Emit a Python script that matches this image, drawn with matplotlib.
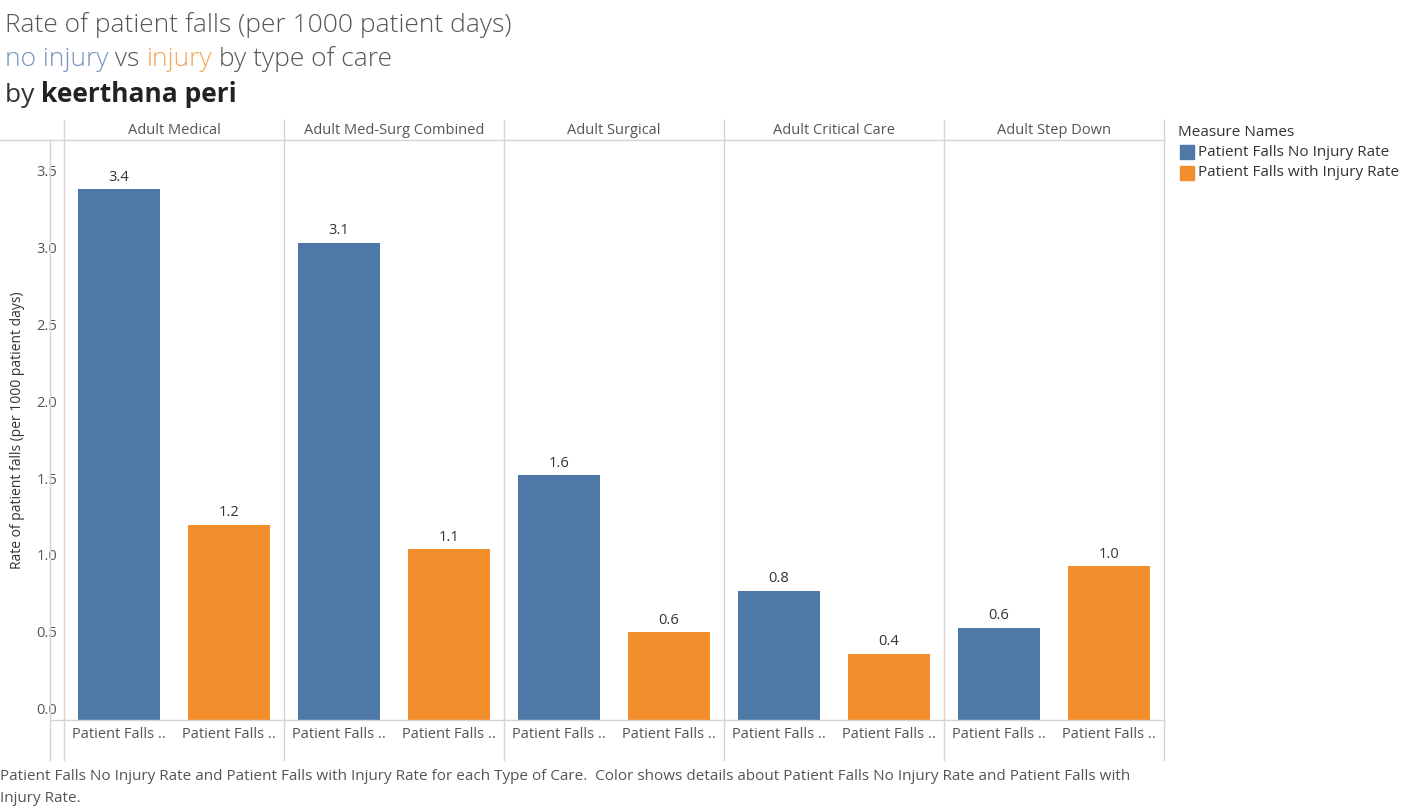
import matplotlib
matplotlib.use("Agg")
from matplotlib import pyplot as plt
from matplotlib.patches import Rectangle
from matplotlib.lines import Line2D

plt.rcParams["font.family"] = ["Open Sans", "DejaVu Sans"]

care_types = ["Adult Medical", "Adult Med-Surg Combined", "Adult Surgical",
              "Adult Critical Care", "Adult Step Down"]
no_injury = [3.45, 3.10, 1.59, 0.84, 0.60]
with_injury = [1.27, 1.11, 0.57, 0.43, 1.00]
no_injury_labels = ["3.4", "3.1", "1.6", "0.8", "0.6"]
with_injury_labels = ["1.2", "1.1", "0.6", "0.4", "1.0"]
series_names = ["Patient Falls No Injury Rate", "Patient Falls with Injury Rate"]
y_ticks = [0.0, 0.5, 1.0, 1.5, 2.0, 2.5, 3.0, 3.5]

BLUE = "#4e79a7"
ORANGE = "#f28e2b"
GRID = "#d4d4d4"
TXT = "#555555"

W, H = 1409, 811
fig = plt.figure(figsize=(W / 100, H / 100), dpi=100)


def fx(px):
    return px / W


def fy(py):
    return 1 - py / H


ax = fig.add_axes([fx(64), fy(720), fx(1164) - fx(64), fy(140) - fy(720)])
n = len(care_types)
series = [(no_injury, no_injury_labels, BLUE), (with_injury, with_injury_labels, ORANGE)]
for i in range(n):
    for j, (vals, labs, col) in enumerate(series):
        x = i + 0.25 + 0.5 * j
        ax.bar(x, vals[i], width=0.377, color=col)
        ax.text(x, vals[i] + 0.03, labs[i], ha="center", va="bottom",
                fontsize=10.5, color="#333333")
ax.set_xlim(0, n)
ax.set_ylim(0, 3.77)
for s in ax.spines.values():
    s.set_visible(False)
ax.set_xticks([])
ax.set_yticks([])
for t in y_ticks:
    ax.text(-0.03, t + 0.06, f"{t:.1f}", ha="right", va="center",
            fontsize=10.5, color=TXT, transform=ax.transData)
fig.text(fx(18), fy(430), "Rate of patient falls (per 1000 patient days)", fontsize=10,
         color="#333333", rotation=90, ha="center", va="center")

# panel separators and frame lines in figure coords
for i in range(n + 1):
    x = fx(64 + 220 * i)
    fig.add_artist(Line2D([x, x], [fy(120), fy(760)], color=GRID, lw=1))
fig.add_artist(Line2D([fx(50), fx(1164)], [fy(720), fy(720)], color=GRID, lw=1))
fig.add_artist(Line2D([fx(50), fx(50)], [fy(140), fy(760)], color=GRID, lw=1))
fig.add_artist(Line2D([fx(0), fx(1164)], [fy(140), fy(140)], color=GRID, lw=1))

for i, name in enumerate(care_types):
    fig.text(fx(64 + 220 * i + 110), fy(131), name, ha="center", va="center",
             fontsize=10.5, color=TXT)
    for j in range(2):
        fig.text(fx(64 + 220 * i + 55 + 110 * j), fy(734), "Patient Falls ..",
                 ha="center", va="center", fontsize=10.5, color=TXT)

# titles
fig.text(fx(5), fy(25), "Rate of patient falls (per 1000 patient days)",
         fontsize=19, color=TXT, va="center", fontweight="light")
parts = [("no injury", "#7294be"), (" vs ", TXT), ("injury", "#f5a35a"),
         (" by type of care", TXT)]
txt = fig.text(fx(5), fy(60), parts[0][0], fontsize=19, color=parts[0][1],
               va="center", fontweight="light")
for s, c in parts[1:]:
    txt = fig.add_artist(plt.Annotation(s, xy=(1, 0), xycoords=txt, va="bottom",
                                        fontsize=19, color=c, fontweight="light"))
by = fig.text(fx(5), fy(95), "by ", fontsize=19, color="#333333", va="center")
fig.add_artist(plt.Annotation("keerthana peri", xy=(1, 0), xycoords=by, va="bottom",
                              fontsize=19, color="#222222", fontweight="bold"))

# legend
fig.text(fx(1178), fy(132), "Measure Names", fontsize=11, color="#333333",
         va="center")
for k, (nm, col) in enumerate(zip(series_names, [BLUE, ORANGE])):
    yc = 152 + 21 * k
    fig.add_artist(Rectangle((fx(1180), fy(yc + 7)), fx(14), fy(0) - fy(14),
                             color=col, transform=fig.transFigure))
    fig.text(fx(1198), fy(yc), nm, fontsize=11, color="#333333", va="center")

fig.text(fx(0), fy(777), "Patient Falls No Injury Rate and Patient Falls with Injury Rate "
         "for each Type of Care.  Color shows details about Patient Falls No Injury Rate "
         "and Patient Falls with", fontsize=11, color=TXT, va="center")
fig.text(fx(0), fy(799), "Injury Rate.", fontsize=11, color=TXT, va="center")

fig.savefig("out.png", dpi=100)
